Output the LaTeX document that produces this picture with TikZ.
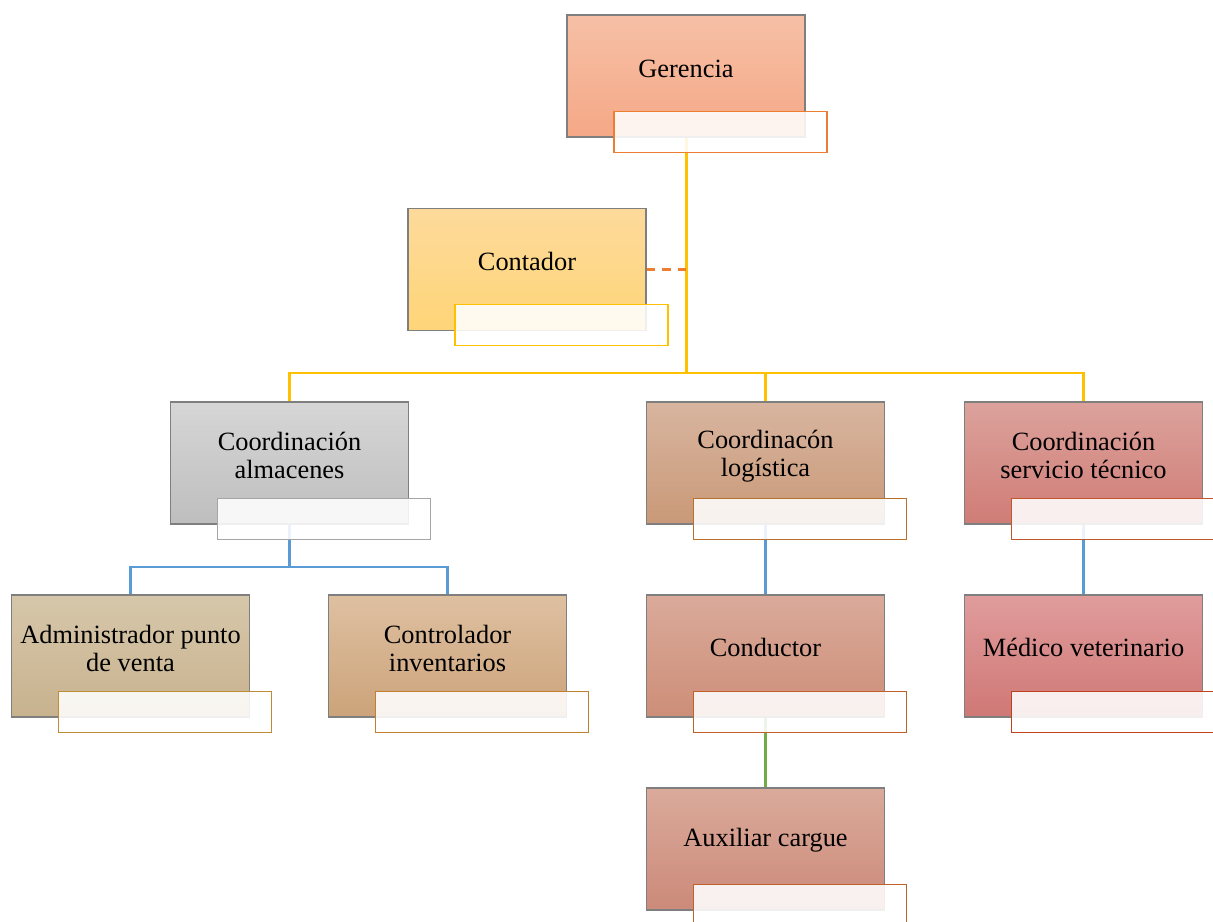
\documentclass[tikz,border=0pt]{standalone}
\usepackage{fontspec}
\setmainfont{Liberation Serif}
\usepackage{tikz}
\usetikzlibrary{calc}

\definecolor{naranja}{HTML}{ED7D31}
\definecolor{oro}{HTML}{FFC000}
\definecolor{azul}{HTML}{5B9BD5}
\definecolor{verde}{HTML}{70AD47}
\definecolor{gris}{HTML}{A5A5A5}
\definecolor{borde}{HTML}{7F7F7F}

\tikzset{
  unidad/.style={rectangle, draw=borde, line width=0.6pt, minimum width=4.76cm, minimum height=2.44cm, inner sep=0pt},
  texto/.style={align=center, font=\fontsize{15}{16}\selectfont, inner sep=0pt},
  cargo/.style={rectangle, fill=white, fill opacity=0.88, line width=0.7pt, minimum width=4.26cm, minimum height=0.82cm, anchor=north west, inner sep=0pt},
  amarilla/.style={draw=oro, line width=1.7pt},
  azulada/.style={draw=azul, line width=1.3pt},
  verdosa/.style={draw=verde, line width=1.3pt}
}

\begin{document}
\begin{tikzpicture}
    \useasboundingbox (0,0) rectangle (24.26,-18.42);
    \clip (0,0) rectangle (24.26,-18.42);

    % Cajas principales
    \node[unidad, top color={rgb,255:red,246;green,192;blue,166}, bottom color={rgb,255:red,245;green,168;blue,134}] (ger) at (13.72,-1.52) {};
    \node[unidad, top color={rgb,255:red,253;green,218;blue,155}, bottom color={rgb,255:red,255;green,213;blue,120}] (con) at (10.54,-5.39) {};
    \node[unidad, top color={rgb,255:red,214;green,214;blue,214}, bottom color={rgb,255:red,190;green,190;blue,190}] (alm) at (5.79,-9.26) {};
    \node[unidad, top color={rgb,255:red,216;green,181;blue,159}, bottom color={rgb,255:red,201;green,153;blue,120}] (log) at (15.31,-9.26) {};
    \node[unidad, top color={rgb,255:red,220;green,162;blue,156}, bottom color={rgb,255:red,208;green,124;blue,118}] (tec) at (21.67,-9.26) {};
    \node[unidad, top color={rgb,255:red,214;green,199;blue,170}, bottom color={rgb,255:red,200;green,178;blue,142}] (adm) at (2.61,-13.12) {};
    \node[unidad, top color={rgb,255:red,222;green,192;blue,161}, bottom color={rgb,255:red,204;green,163;blue,122}] (ctr) at (8.95,-13.12) {};
    \node[unidad, top color={rgb,255:red,218;green,170;blue,154}, bottom color={rgb,255:red,205;green,142;blue,120}] (cond) at (15.31,-13.12) {};
    \node[unidad, top color={rgb,255:red,224;green,156;blue,156}, bottom color={rgb,255:red,207;green,120;blue,118}] (med) at (21.67,-13.12) {};
    \node[unidad, top color={rgb,255:red,218;green,170;blue,154}, bottom color={rgb,255:red,204;green,138;blue,122}] (aux) at (15.31,-16.98) {};

    % Textos
    \node[texto] (tger) at ([yshift=-1.08cm]ger.north) {Gerencia};
    \node[texto] (tcon) at ([yshift=-1.07cm]con.north) {Contador};
    \node[texto] (talm) at ([yshift=-1.08cm]alm.north) {Coordinación\\almacenes};
    \node[texto] (tlog) at ([yshift=-1.09cm]log.north) {Coordinacón\\logística};
    \node[texto] (ttec) at ([yshift=-1.08cm]tec.north) {Coordinación\\servicio técnico};
    \node[texto] (tadm) at ([yshift=-1.08cm]adm.north) {Administrador punto\\de venta};
    \node[texto] (tctr) at ([yshift=-1.08cm]ctr.north) {Controlador\\inventarios};
    \node[texto] (tcond) at ([yshift=-1.06cm]cond.north) {Conductor};
    \node[texto] (tmed) at ([yshift=-1.06cm]med.north) {Médico veterinario};
    \node[texto] (taux) at ([yshift=-1.06cm]aux.north) {Auxiliar cargue};

    % Lineas
    \coordinate (bus) at (0,-7.46);
    \coordinate (busA) at (0,-11.34);
    \draw[amarilla] (ger.south) -- (ger.south |- bus);
    \draw[amarilla] (alm.north) -- (alm.north |- bus) -- (tec.north |- bus) -- (tec.north);
    \draw[amarilla] (log.north) -- (log.north |- bus);
    \draw[naranja, line width=1.2pt, dash pattern=on 5pt off 4pt] (con.east) -- (ger.south |- con.east);
    \draw[azulada] (alm.south) -- (alm.south |- busA);
    \draw[azulada] (adm.north) -- (adm.north |- busA) -- (ctr.north |- busA) -- (ctr.north);
    \draw[azulada] (log.south) -- (cond.north);
    \draw[azulada] (tec.south) -- (med.north);
    \draw[verdosa] (cond.south) -- (aux.north);

    % Cajas de cargo
    \node[cargo, draw=naranja] (cger) at ([xshift=0.94cm, yshift=0.54cm]ger.south west) {};
    \node[cargo, draw=oro] (ccon) at ([xshift=0.94cm, yshift=0.54cm]con.south west) {};
    \node[cargo, draw=gris] (calm) at ([xshift=0.94cm, yshift=0.54cm]alm.south west) {};
    \node[cargo, draw={rgb,255:red,184;green,112;blue,46}] (clog) at ([xshift=0.94cm, yshift=0.54cm]log.south west) {};
    \node[cargo, draw={rgb,255:red,192;green,86;blue,42}] (ctec) at ([xshift=0.94cm, yshift=0.54cm]tec.south west) {};
    \node[cargo, draw={rgb,255:red,192;green,140;blue,58}] (cadm) at ([xshift=0.94cm, yshift=0.54cm]adm.south west) {};
    \node[cargo, draw={rgb,255:red,192;green,128;blue,48}] (cctr) at ([xshift=0.94cm, yshift=0.54cm]ctr.south west) {};
    \node[cargo, draw={rgb,255:red,192;green,96;blue,42}] (ccond) at ([xshift=0.94cm, yshift=0.54cm]cond.south west) {};
    \node[cargo, draw={rgb,255:red,192;green,64;blue,26}] (cmed) at ([xshift=0.94cm, yshift=0.54cm]med.south west) {};
    \node[cargo, draw={rgb,255:red,192;green,96;blue,42}] (caux) at ([xshift=0.94cm, yshift=0.54cm]aux.south west) {};
\end{tikzpicture}
\end{document}
